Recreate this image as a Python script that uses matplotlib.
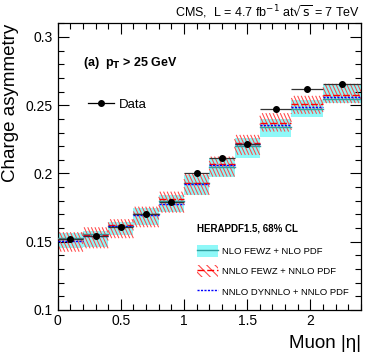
import numpy as np
import matplotlib
matplotlib.use("Agg")
import matplotlib.pyplot as plt
from matplotlib.patches import Patch
from matplotlib.lines import Line2D
from matplotlib.collections import LineCollection
from matplotlib.ticker import MultipleLocator

plt.rcParams['font.family'] = ['Liberation Sans', 'DejaVu Sans']
plt.rcParams['hatch.linewidth'] = 0.8

# bin edges in muon |eta|
edges = [0.0, 0.2, 0.4, 0.6, 0.8, 1.0, 1.2, 1.4, 1.6, 1.85, 2.1, 2.4]

# data
data_val = [0.1518, 0.1543, 0.1606, 0.1704, 0.1790, 0.2007, 0.2117, 0.2217, 0.2469, 0.2618, 0.2655]
data_err = [0.0018, 0.0018, 0.0018, 0.0018, 0.0019, 0.0020, 0.0020, 0.0021, 0.0022, 0.0023, 0.0025]

# NLO FEWZ + NLO PDF (central, low, high)
nlo_c = [0.1530, 0.1555, 0.1618, 0.1700, 0.1800, 0.1933, 0.2050, 0.2202, 0.2339, 0.2471, 0.2545]
nlo_lo = [0.1452, 0.1464, 0.1550, 0.1623, 0.1720, 0.1843, 0.1977, 0.2112, 0.2270, 0.2417, 0.2520]
nlo_hi = [0.1567, 0.1580, 0.1647, 0.1746, 0.1843, 0.1990, 0.2112, 0.2259, 0.2398, 0.2540, 0.2650]

# NNLO FEWZ + NNLO PDF
nnlo_c = [0.1518, 0.1550, 0.1620, 0.1700, 0.1810, 0.1929, 0.2070, 0.2227, 0.2373, 0.2508, 0.2575]
nnlo_lo = [0.1427, 0.1452, 0.1526, 0.1606, 0.1713, 0.1843, 0.1977, 0.2136, 0.2307, 0.2437, 0.2515]
nnlo_hi = [0.1570, 0.1606, 0.1665, 0.1757, 0.1867, 0.2002, 0.2124, 0.2283, 0.2442, 0.2569, 0.2657]

# NNLO DYNNLO + NNLO PDF
dyn_c = [0.1506, 0.1540, 0.1615, 0.1698, 0.1780, 0.1922, 0.2063, 0.2215, 0.2356, 0.2490, 0.2559]

fig = plt.figure(figsize=(3.74, 3.59), dpi=100)
ax = fig.add_axes([0.154, 0.1365, 0.811, 0.7985])
ax.set_xlim(0, 2.4)
ax.set_ylim(0.1, 0.31)

cyan = '#8ff8f8'
teal = '#2f9f9f'
red = '#ff4848'
hatch = '\\\\\\\\'

# steep ROOT-like hatching, built as line segments cut to each box
px_x = ax.transData.transform((1, 0))[0] - ax.transData.transform((0, 0))[0]
px_y = ax.transData.transform((0, 1))[1] - ax.transData.transform((0, 0))[1]
step = 3.6 / px_x
slope = 2.2


def hatch_segments(x0, x1, lo, hi):
    run = (hi - lo) * px_y / slope / px_x
    segs = []
    for s in np.arange(x0 - run, x1, step):
        xa, ya = s, hi
        xb, yb = s + run, lo
        if xa < x0:
            ya = hi - (x0 - s) / run * (hi - lo)
            xa = x0
        if xb > x1:
            yb = hi - (x1 - s) / run * (hi - lo)
            xb = x1
        if xb > xa:
            segs.append([(xa, ya), (xb, yb)])
    return segs


for i in range(len(data_val)):
    x0, x1 = edges[i], edges[i + 1]
    ax.fill_between([x0, x1], nlo_lo[i], nlo_hi[i], color=cyan, lw=0, zorder=1)

    lc = LineCollection(hatch_segments(x0, x1, nnlo_lo[i], nnlo_hi[i]),
                        colors=red, linewidths=0.75, zorder=2)
    ax.add_collection(lc)

    ax.plot([x0, x1], [nlo_c[i]] * 2, color=teal, lw=1.0, zorder=3)
    ax.plot([x0, x1], [nnlo_c[i]] * 2, color='red', lw=1.0, ls=(0, (5, 2)), zorder=4)
    ax.plot([x0, x1], [dyn_c[i]] * 2, color='blue', lw=1.0, ls=(0, (1.5, 1)), zorder=5)

centers = [(edges[i] + edges[i + 1]) / 2 for i in range(len(data_val))]
half = [(edges[i + 1] - edges[i]) / 2 for i in range(len(data_val))]
ax.errorbar(centers, data_val, xerr=half, yerr=data_err, fmt='o', color='black',
            ecolor='#333333', elinewidth=0.9, ms=4, capsize=0, zorder=6)

ax.set_xlim(0, 2.4)
ax.set_ylim(0.1, 0.31)
ax.set_yticks([0.1, 0.15, 0.2, 0.25, 0.3])
ax.set_yticklabels(['0.1', '0.15', '0.2', '0.25', '0.3'])
ax.set_xticks([0, 0.5, 1, 1.5, 2])
ax.set_xticklabels(['0', '0.5', '1', '1.5', '2'])
ax.xaxis.set_minor_locator(MultipleLocator(0.1))
ax.yaxis.set_minor_locator(MultipleLocator(0.01))
ax.tick_params(which='both', direction='in', top=True, right=True, labelsize=10, width=0.8)
ax.tick_params(which='major', length=8)
ax.tick_params(which='minor', length=4)
ax.tick_params(axis='x', pad=3)
for s in ax.spines.values():
    s.set_linewidth(0.9)

ax.set_ylabel('Charge asymmetry', fontsize=13.5, loc='top', labelpad=5)
ax.set_xlabel('Muon |η|', fontsize=13.5, loc='right', labelpad=5)

fig.text(0.963, 0.965, r'CMS,  L = 4.7 fb$^{-1}$ at$\sqrt{\mathrm{s}}$ = 7 TeV', ha='right',
         va='center', fontsize=9)
ax.text(0.085, 0.862, r'(a)  p$_{\mathbf{T}}$ > 25 GeV', transform=ax.transAxes, fontsize=9,
        fontweight='bold', va='center')

data_handle = Line2D([], [], color='black', marker='o', ms=4, lw=0.9)
leg1 = ax.legend([data_handle], ['Data'], loc='upper left', bbox_to_anchor=(0.06, 0.778),
                 frameon=False, fontsize=9.5, handlelength=2.0, handletextpad=0.4)
ax.add_artist(leg1)

h_nlo = (Patch(facecolor=cyan, lw=0), Line2D([], [], color=teal, lw=1.0))
h_nnlo = (Patch(facecolor='none', edgecolor=red, hatch=hatch, lw=0),
          Line2D([], [], color='red', lw=1.0, ls=(0, (5, 2))))
h_dyn = Line2D([], [], color='blue', lw=1.0, ls=(0, (1.5, 1)))
leg2 = ax.legend([h_nlo, h_nnlo, h_dyn],
                 ['NLO FEWZ + NLO PDF', 'NNLO FEWZ + NNLO PDF', 'NNLO DYNNLO + NNLO PDF'],
                 loc='lower left', bbox_to_anchor=(0.43, 0.014), frameon=False, fontsize=6.8,
                 title='HERAPDF1.5, 68% CL', title_fontproperties={'weight': 'bold', 'size': 7},
                 handlelength=2.3, handleheight=1.6, labelspacing=0.85, handletextpad=0.4,
                 alignment='left')
leg2._legend_box.sep = 8

fig.savefig('out.png', dpi=100)
